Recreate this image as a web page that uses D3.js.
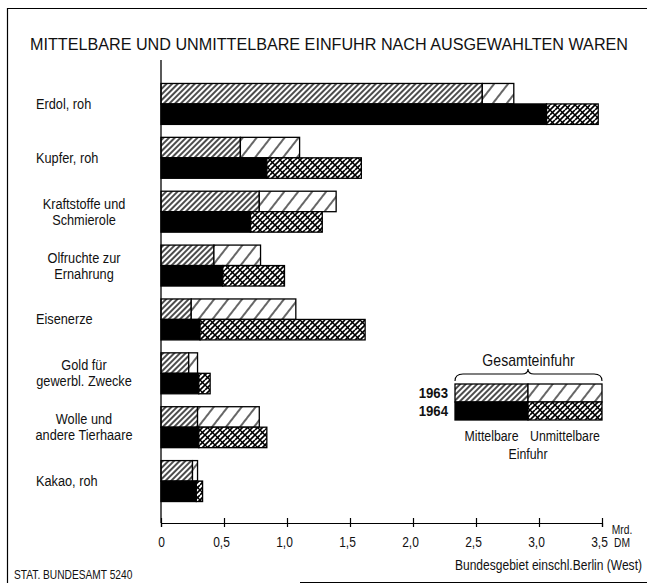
<!DOCTYPE html>
<html>
<head>
<meta charset="utf-8">
<script src="https://cdn.jsdelivr.net/npm/d3@7"></script>
<style>
  body { margin: 0; background: #fff; }
  svg text { font-family: "Liberation Sans", Arial, sans-serif; fill: #111; }
</style>
</head>
<body>
<div id="chart"></div>
<script>
// categories (label lines) and values in Mrd. DM
const categories = ["Erdol", "Kupfer", "Kraftstoffe", "Olfruchte", "Eisenerze", "Gold", "Wolle", "Kakao"];
const labelLines = [
  ["Erdol, roh"],
  ["Kupfer, roh"],
  ["Kraftstoffe und", "Schmierole"],
  ["Olfruchte zur", "Ernahrung"],
  ["Eisenerze"],
  ["Gold für", "gewerbl. Zwecke"],
  ["Wolle und", "andere Tierhaare"],
  ["Kakao, roh"]
];
const years = ["1963", "1964"];
const mittel1963   = [2.55, 0.63, 0.78, 0.42, 0.24, 0.22, 0.29, 0.25];
const unmittel1963 = [0.25, 0.47, 0.61, 0.37, 0.83, 0.07, 0.49, 0.04];
const mittel1964   = [3.06, 0.84, 0.71, 0.49, 0.31, 0.30, 0.30, 0.28];
const unmittel1964 = [0.41, 0.75, 0.57, 0.49, 1.31, 0.09, 0.54, 0.05];
const xTicks = [0, 0.5, 1.0, 1.5, 2.0, 2.5, 3.0, 3.5];

const width = 647, height = 583;

const svg = d3.select("#chart").append("svg")
  .attr("width", width)
  .attr("height", height)
  .attr("viewBox", [0, 0, width, height]);

// condensed-looking text: squeeze horizontally around the anchor point
function txt(parent, x, y, s, o = {}) {
  return parent.append("text")
    .attr("transform", `translate(${x},${y}) scale(${o.sx || 0.85},1)`)
    .attr("text-anchor", o.anchor || "start")
    .style("font-size", (o.size || 15) + "px")
    .style("font-weight", o.weight || "normal")
    .text(s);
}

// patterns
const defs = svg.append("defs");
defs.append("pattern")
  .attr("id", "dense").attr("patternUnits", "userSpaceOnUse")
  .attr("width", 4).attr("height", 4).attr("patternTransform", "rotate(45)")
  .call(p => {
    p.append("rect").attr("width", 4).attr("height", 4).attr("fill", "#fff");
    p.append("line").attr("x1", 1).attr("x2", 1).attr("y1", 0).attr("y2", 4)
      .attr("stroke", "#000").attr("stroke-width", 1.4);
  });
defs.append("pattern")
  .attr("id", "sparse").attr("patternUnits", "userSpaceOnUse")
  .attr("width", 11).attr("height", 11).attr("patternTransform", "rotate(38)")
  .call(p => {
    p.append("rect").attr("width", 11).attr("height", 11).attr("fill", "#fff");
    p.append("line").attr("x1", 1).attr("x2", 1).attr("y1", 0).attr("y2", 11)
      .attr("stroke", "#000").attr("stroke-width", 1.2);
  });
defs.append("pattern")
  .attr("id", "cross").attr("patternUnits", "userSpaceOnUse")
  .attr("width", 10).attr("height", 10)
  .call(p => {
    p.append("rect").attr("width", 10).attr("height", 10).attr("fill", "#fff");
    p.append("path").attr("d", "M0,5 L5,0 M0,10 L10,0 M5,10 L10,5 M-1,1 L1,-1 M9,11 L11,9")
      .attr("stroke", "#000").attr("stroke-width", 1.7);
    p.append("path").attr("d", "M0,0 L10,10")
      .attr("stroke", "#000").attr("stroke-width", 1.3);
  });

// frame
svg.append("path")
  .attr("d", "M7.5,583 L7.5,8.5 L647,8.5")
  .attr("fill", "none").attr("stroke", "#000").attr("stroke-width", 1.2);
svg.append("line")
  .attr("x1", 300).attr("x2", 647).attr("y1", 582.5).attr("y2", 582.5)
  .attr("stroke", "#000").attr("stroke-width", 1);

// title
svg.append("text")
  .attr("x", 30).attr("y", 50)
  .attr("textLength", 598).attr("lengthAdjust", "spacingAndGlyphs")
  .style("font-size", "16px")
  .text("MITTELBARE UND UNMITTELBARE EINFUHR NACH AUSGEWAHLTEN WAREN");

// scales
const x = d3.scaleLinear().domain([0, 3.5]).range([161, 602]);
const y = d3.scaleBand().domain(categories).range([77, 508])
  .paddingInner(0.24).paddingOuter(0.12);
const yy = d3.scaleBand().domain(years).range([0, y.bandwidth()]);

// build segments
const segs = [];
categories.forEach((c, i) => {
  segs.push({c, year: "1963", x0: 0, x1: mittel1963[i], fill: "url(#dense)"});
  segs.push({c, year: "1963", x0: mittel1963[i], x1: mittel1963[i] + unmittel1963[i], fill: "url(#sparse)"});
  segs.push({c, year: "1964", x0: 0, x1: mittel1964[i], fill: "#000"});
  segs.push({c, year: "1964", x0: mittel1964[i], x1: mittel1964[i] + unmittel1964[i], fill: "url(#cross)"});
});

svg.append("g").selectAll("rect")
  .data(segs)
  .join("rect")
    .attr("x", d => x(d.x0))
    .attr("y", d => y(d.c) + yy(d.year))
    .attr("width", d => x(d.x1) - x(d.x0))
    .attr("height", yy.bandwidth())
    .attr("fill", d => d.fill)
    .attr("stroke", "#000")
    .attr("stroke-width", 1.3);

// category labels
const lab = svg.append("g");
labelLines.forEach((lines, i) => {
  const cy = y(categories[i]) + y.bandwidth() / 2;
  lines.forEach((ln, j) => {
    const multi = lines.length > 1;
    txt(lab, multi ? 84 : 36, cy + 5 + (j - (lines.length - 1) / 2) * 16, ln,
      {anchor: multi ? "middle" : "start"});
  });
});

// vertical axis line
svg.append("line")
  .attr("x1", x(0)).attr("x2", x(0)).attr("y1", 60).attr("y2", 523)
  .attr("stroke", "#000").attr("stroke-width", 1.3);

// bottom axis
const xAxis = svg.append("g")
  .attr("transform", "translate(0,523)")
  .call(d3.axisBottom(x).tickValues(xTicks).tickSize(4).tickFormat(""));
xAxis.select(".domain").attr("stroke-width", 1.2);
xAxis.selectAll(".tick line").attr("y1", -5).attr("y2", 4).attr("stroke-width", 1.2);
xAxis.selectAll(".tick").each(function(d) {
  txt(d3.select(this), d === 0 ? 0 : -3, 24, d === 0 ? "0" : d3.format(".1f")(d).replace(".", ","),
    {anchor: "middle", size: 15, sx: 0.8});
});

txt(svg, 622, 534, "Mrd.", {anchor: "middle", size: 12.5, sx: 0.82});
txt(svg, 622, 547, "DM", {anchor: "middle", size: 12.5, sx: 0.82});

// footer
txt(svg, 14, 579, "STAT. BUNDESAMT 5240", {size: 12, sx: 0.85});
txt(svg, 642, 570, "Bundesgebiet einschl.Berlin (West)", {anchor: "end", size: 14, sx: 0.86});

// legend
const lg = svg.append("g");
const lx0 = 455, lmid = 528, lx1 = 602, ly = 384, lh = 18;
txt(lg, (lx0 + lx1) / 2, 366, "Gesamteinfuhr", {anchor: "middle", size: 16, sx: 0.88});
lg.append("path")
  .attr("d", `M${lx0},381 Q${lx0},374 ${lx0 + 8},374 L${lmid - 6},374 Q${lmid},374 ${lmid},369 Q${lmid},374 ${lmid + 6},374 L${lx1 - 8},374 Q${lx1},374 ${lx1},381`)
  .attr("fill", "none").attr("stroke", "#000").attr("stroke-width", 1.1);
const legendCells = [
  {x0: lx0, x1: lmid, row: 0, fill: "url(#dense)"},
  {x0: lmid, x1: lx1, row: 0, fill: "url(#sparse)"},
  {x0: lx0, x1: lmid, row: 1, fill: "#000"},
  {x0: lmid, x1: lx1, row: 1, fill: "url(#cross)"}
];
lg.selectAll("rect").data(legendCells).join("rect")
  .attr("x", d => d.x0).attr("y", d => ly + d.row * lh)
  .attr("width", d => d.x1 - d.x0).attr("height", lh)
  .attr("fill", d => d.fill).attr("stroke", "#000").attr("stroke-width", 1.3);
years.forEach((yr, i) => {
  txt(lg, 448, ly + i * lh + 14, yr, {anchor: "end", size: 15, weight: "bold", sx: 0.88});
});
txt(lg, (lx0 + lmid) / 2, 441, "Mittelbare", {anchor: "middle", size: 14.5});
txt(lg, (lmid + lx1) / 2, 441, "Unmittelbare", {anchor: "middle", size: 14.5});
txt(lg, lmid, 459, "Einfuhr", {anchor: "middle", size: 14.5});
</script>
</body>
</html>
